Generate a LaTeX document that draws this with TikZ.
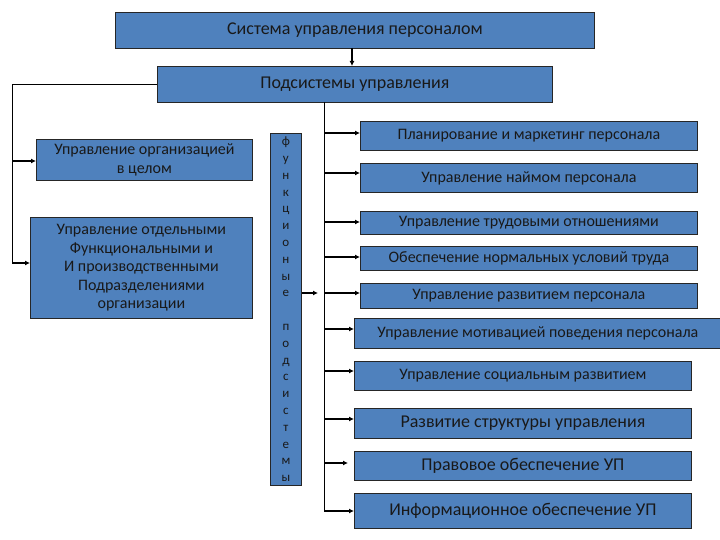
\documentclass[tikz,border=0pt]{standalone}
\usepackage{fontspec}
\setmainfont{Carlito}
\usetikzlibrary{arrows.meta}
\definecolor{boxblue}{RGB}{79,129,189}
\tikzset{
  bx/.style={draw=black!85, line width=0.8pt, fill=boxblue, anchor=north west, inner sep=0pt, align=center, text=black!90},
  conn/.style={line width=1.4pt, -{Latex[length=5pt,width=5pt]}},
  trunk/.style={line width=0.9pt},
  ftop/.style={font=\fontsize{18}{20}\selectfont},
  fmid/.style={font=\fontsize{16}{18}\selectfont},
  fbig/.style={font=\fontsize{18}{20}\selectfont},
}
\begin{document}
\begin{tikzpicture}[x=1pt,y=-1pt]
\useasboundingbox (0,0) rectangle (720,540);
% top boxes
\node[bx, ftop, minimum width=479, minimum height=36] (sys) at (115,12) {Система управления персоналом};
\node[bx, ftop, minimum width=395, minimum height=36] (sub) at (157,66) {Подсистемы управления};
\draw[conn, line width=1.2pt] (352,48) -- (352,66);
% left boxes
\node[bx, minimum width=216, minimum height=41, font=\fontsize{16}{18.5}\selectfont] (org) at (36,139) {Управление организацией\\в целом};
\node[bx, minimum width=222, minimum height=101, font=\fontsize{16}{18.5}\selectfont] (dep) at (30,217) {Управление отдельными\\Функциональными и\\И производственными\\Подразделениями\\организации};
\coordinate (lc) at (12,84);
\draw[trunk] (sub.west |- lc) -- (lc) -- (12,263);
\draw[conn] (12,161) -- (org.west |- 0,161);
\draw[conn] (12,263) -- (dep.west |- 0,263);
% vertical box
\node[bx, minimum width=31, minimum height=352, font=\fontsize{13}{16.8}\selectfont] (fs) at (270,133) {ф\\у\\н\\к\\ц\\и\\о\\н\\ы\\е\\[16.8pt]п\\о\\д\\с\\и\\с\\т\\е\\м\\ы};
\coordinate (fsend) at (318,293);
\draw[conn] (fs.east |- fsend) -- (fsend);
% right boxes
\node[bx, fmid, minimum width=337, minimum height=29] (r1) at (360,121) {Планирование и маркетинг персонала};
\node[bx, fmid, minimum width=337, minimum height=29] (r2) at (360,163) {Управление наймом персонала};
\node[bx, fmid, minimum width=337, minimum height=23] (r3) at (360,211) {Управление трудовыми отношениями};
\node[bx, fmid, minimum width=337, minimum height=24] (r4) at (360,246) {Обеспечение нормальных условий труда};
\node[bx, fmid, minimum width=337, minimum height=25] (r5) at (360,283) {Управление развитием персонала};
\node[bx, fmid, minimum width=367, minimum height=30] (r6) at (354,318) {Управление мотивацией поведения персонала};
\node[bx, fmid, minimum width=337, minimum height=29] (r7) at (354,361) {Управление социальным развитием};
\node[bx, fbig, minimum width=337, minimum height=30] (r8) at (354,408) {Развитие структуры управления};
\node[bx, fbig, minimum width=337, minimum height=29] (r9) at (354,451) {Правовое обеспечение УП};
\node[bx, fbig, minimum width=337, minimum height=35] (r10) at (354,493) {Информационное обеспечение УП};
% trunk
\coordinate (tb) at (324,511);
\draw[trunk] (324,102) -- (tb);
\draw[conn] (324,133) -- (r1.west |- 0,133);
\draw[conn] (324,173) -- (r2.west |- 0,173);
\draw[conn] (324,222) -- (r3.west |- 0,222);
\draw[conn] (324,257) -- (r4.west |- 0,257);
\draw[conn] (324,293) -- (r5.west |- 0,293);
\draw[conn] (324,329) -- (r6.west |- 0,329);
\draw[conn] (324,371) -- (r7.west |- 0,371);
\draw[conn] (324,419) -- (r8.west |- 0,419);
\draw[conn] (324,463) -- (348,463);
\draw[conn] (tb) -- (r10.west |- tb);
\end{tikzpicture}
\end{document}
